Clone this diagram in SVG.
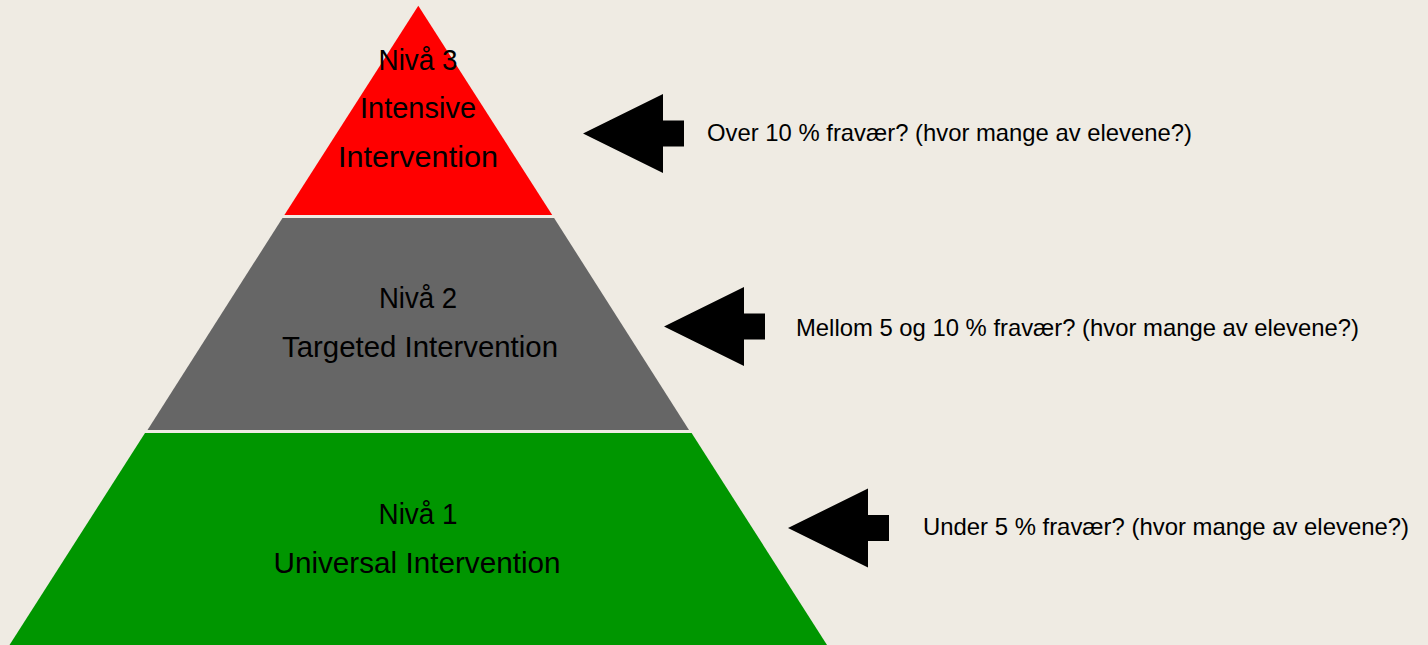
<svg xmlns="http://www.w3.org/2000/svg" width="1428" height="645" viewBox="0 0 1428 645">
  <style>
    .big { font-family: "Liberation Sans", Arial, sans-serif; font-size: 29px; fill: #000; text-anchor: middle; }
    .note { font-family: "Liberation Sans", Arial, sans-serif; font-size: 24px; fill: #000; }
    .arrow { fill: #000; }
  </style>
  <defs>
    <polygon id="arrowShape" class="arrow" points="0,0 80,-39.5 80,-13 101,-13 101,13 80,13 80,39.5"/>
  </defs>
  <rect x="0" y="0" width="1428" height="645" fill="#EFEBE3"/>

  <g id="level3">
    <polygon points="418.3,5.7 552.2,215 284.4,215" fill="#FF0000"/>
    <text class="big" x="418" y="70" textLength="79" lengthAdjust="spacingAndGlyphs">Nivå 3</text>
    <text class="big" x="418" y="118" textLength="116" lengthAdjust="spacingAndGlyphs">Intensive</text>
    <text class="big" x="418" y="167" textLength="160" lengthAdjust="spacingAndGlyphs">Intervention</text>
  </g>

  <g id="level2">
    <polygon points="282.5,218 554.1,218 689,430 147.5,430" fill="#666666"/>
    <text class="big" x="418" y="308" textLength="78" lengthAdjust="spacingAndGlyphs">Nivå 2</text>
    <text class="big" x="420" y="357" textLength="276" lengthAdjust="spacingAndGlyphs">Targeted Intervention</text>
  </g>

  <g id="level1">
    <polygon points="145,433 691.6,433 827,645 9.5,645" fill="#009600"/>
    <text class="big" x="418" y="524" textLength="79" lengthAdjust="spacingAndGlyphs">Nivå 1</text>
    <text class="big" x="417" y="573" textLength="287" lengthAdjust="spacingAndGlyphs">Universal Intervention</text>
  </g>

  <g id="connectors">
    <use href="#arrowShape" x="583" y="133.5"/>
    <use href="#arrowShape" x="664" y="326.5"/>
    <use href="#arrowShape" x="788" y="528"/>
  </g>

  <g id="note3">
    <text class="note" x="707" y="141" textLength="485" lengthAdjust="spacingAndGlyphs">Over 10 % fravær? (hvor mange av elevene?)</text>
  </g>
  <g id="note2">
    <text class="note" x="796" y="336" textLength="563" lengthAdjust="spacingAndGlyphs">Mellom 5 og 10 % fravær? (hvor mange av elevene?)</text>
  </g>
  <g id="note1">
    <text class="note" x="923" y="535" textLength="486" lengthAdjust="spacingAndGlyphs">Under 5 % fravær? (hvor mange av elevene?)</text>
  </g>
</svg>
